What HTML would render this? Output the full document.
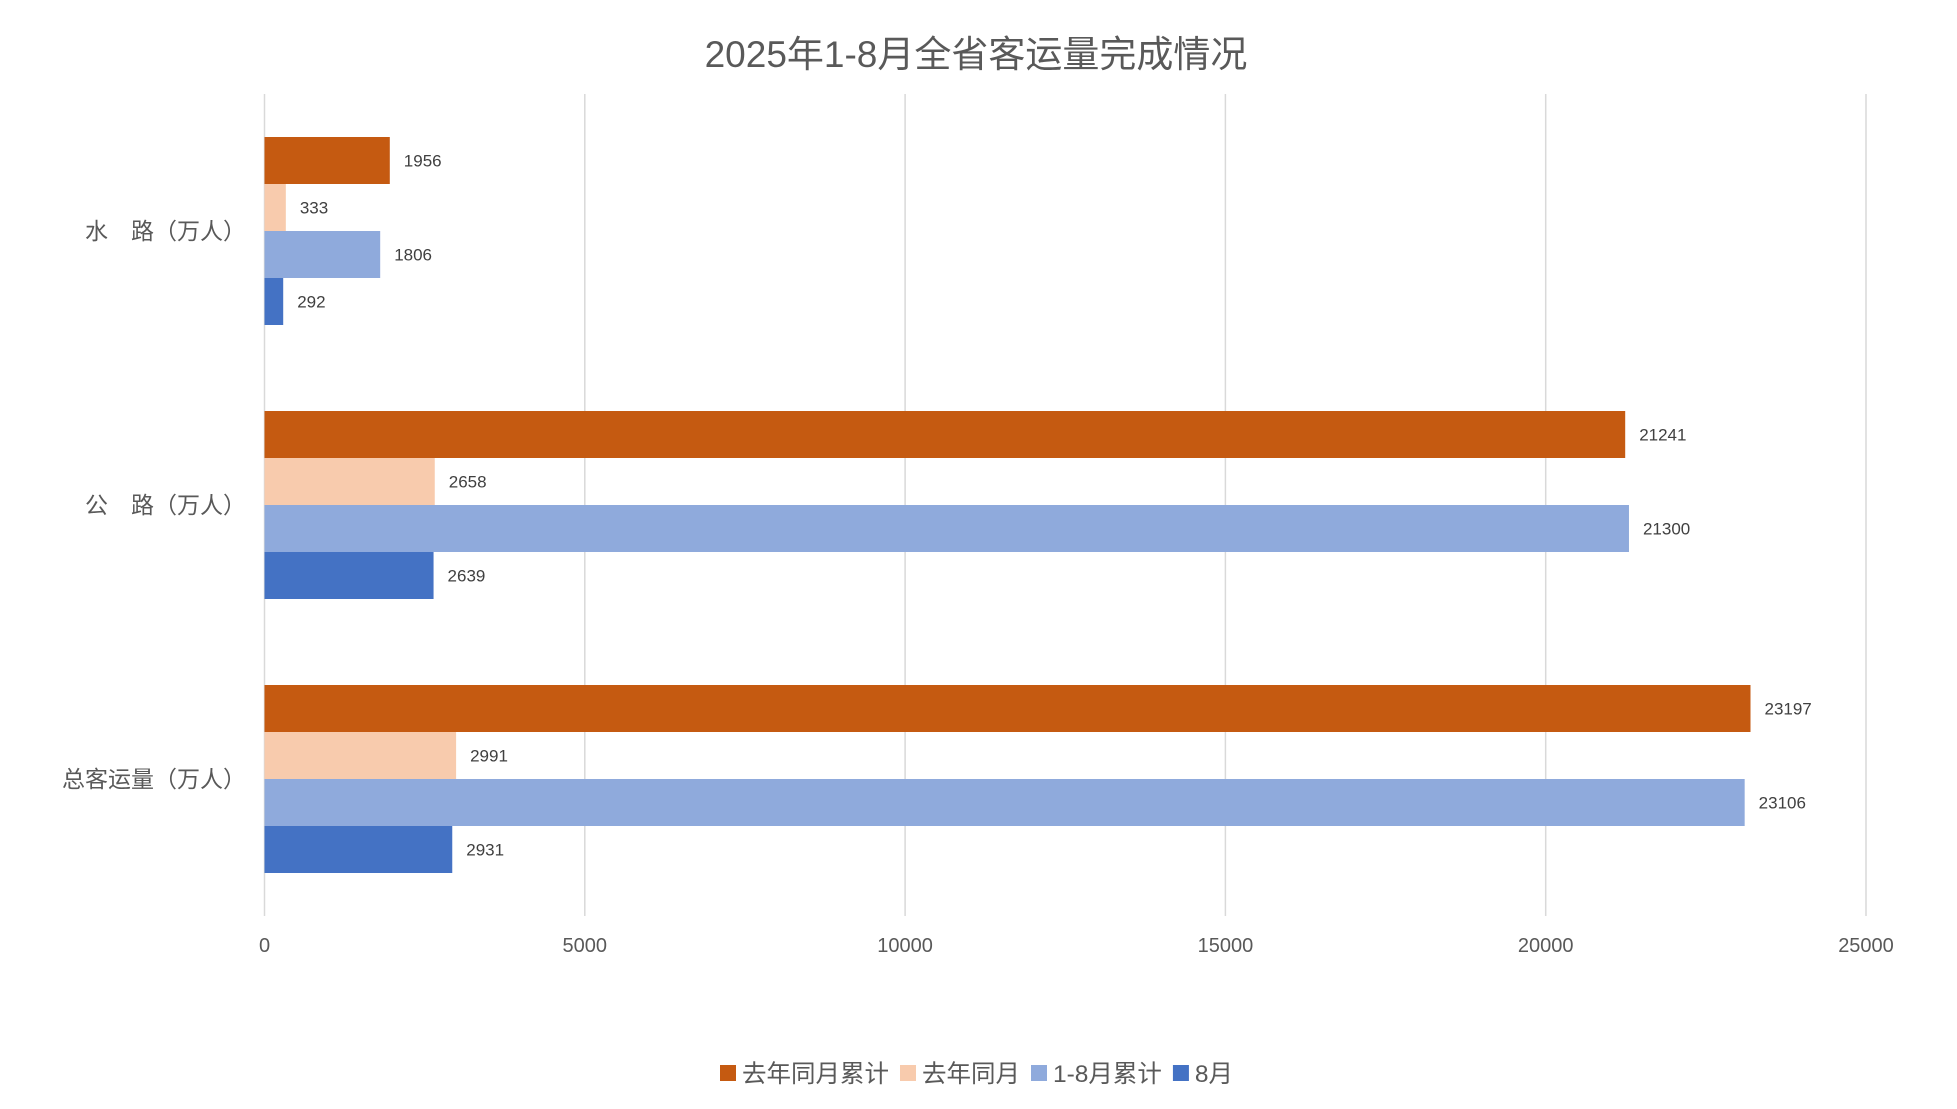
<!DOCTYPE html>
<html><head><meta charset="utf-8"><style>
html,body{margin:0;padding:0;background:#fff;}
svg{display:block;font-family:"Liberation Sans","Noto Sans CJK SC",sans-serif;}
</style></head><body>
<svg id="chart" width="1957" height="1109" viewBox="0 0 1957 1109">
<text x="976" y="67" text-anchor="middle" font-size="37" fill="#595959">2025年1-8月全省客运量完成情况</text>
<g id="grid"></g><g id="bars"></g><g id="labels"></g><g id="legend"></g>
</svg>
<script>
const categories = ["水　路（万人）","公　路（万人）","总客运量（万人）"];
const seriesNames = ["去年同月累计","去年同月","1-8月累计","8月"];
const lastYearCum = [1956, 21241, 23197];
const lastYearMonth = [333, 2658, 2991];
const cum18 = [1806, 21300, 23106];
const aug = [292, 2639, 2931];
const ticks = [0, 5000, 10000, 15000, 20000, 25000];
const colors = ["#C55A11","#F8CBAD","#8FAADC","#4472C4"];
const series = [lastYearCum, lastYearMonth, cum18, aug];
const NS = "http://www.w3.org/2000/svg";
const X0 = 264.5, X1 = 1866, TOP = 94, BOT = 916, MAX = 25000;
const xs = v => X0 + (X1 - X0) * v / MAX;
const band = (BOT - TOP) / categories.length, barH = 47, gapTop = (band - barH * 4) / 2;
function mk(tag, attrs, parent){const e=document.createElementNS(NS,tag);for(const k in attrs)e.setAttribute(k,attrs[k]);parent.appendChild(e);return e;}
const grid=document.getElementById('grid'), bars=document.getElementById('bars'), labels=document.getElementById('labels'), legend=document.getElementById('legend');
ticks.forEach(t=>{
  const l=mk('line',{x1:xs(t),x2:xs(t),y1:TOP,y2:BOT,stroke:'#d9d9d9','stroke-width':1.5},grid);
  
  
  const tx=mk('text',{x:xs(t),y:952,'text-anchor':'middle','font-size':20,fill:'#595959'},grid);
  tx.textContent=t;
  
  
});
categories.forEach((c,i)=>{
  const y0=TOP+band*i;
  const ct=mk('text',{x:246,y:y0+band/2+8,'text-anchor':'end','font-size':23,fill:'#595959'},labels);
  ct.textContent=c;
  
  
  series.forEach((s,j)=>{
    const y=y0+gapTop+j*barH;
    const r=mk('rect',{x:X0,y:y,width:xs(s[i])-X0,height:barH,fill:colors[j]},bars);
    
    
    const t=mk('text',{x:xs(s[i])+14,y:y+barH/2+6,'font-size':17,fill:'#404040'},labels);
    t.textContent=s[i];
    
    
  });
});
let lx=720;
seriesNames.forEach((n,j)=>{
  const r=mk('rect',{x:lx,y:1065,width:16,height:16,fill:colors[j]},legend);
  
  
  const t=mk('text',{x:lx+22,y:1082,'font-size':24.5,fill:'#595959'},legend);
  t.textContent=n;
  
  
  lx+=22+t.getComputedTextLength()+11;
});
</script>
</body></html>
